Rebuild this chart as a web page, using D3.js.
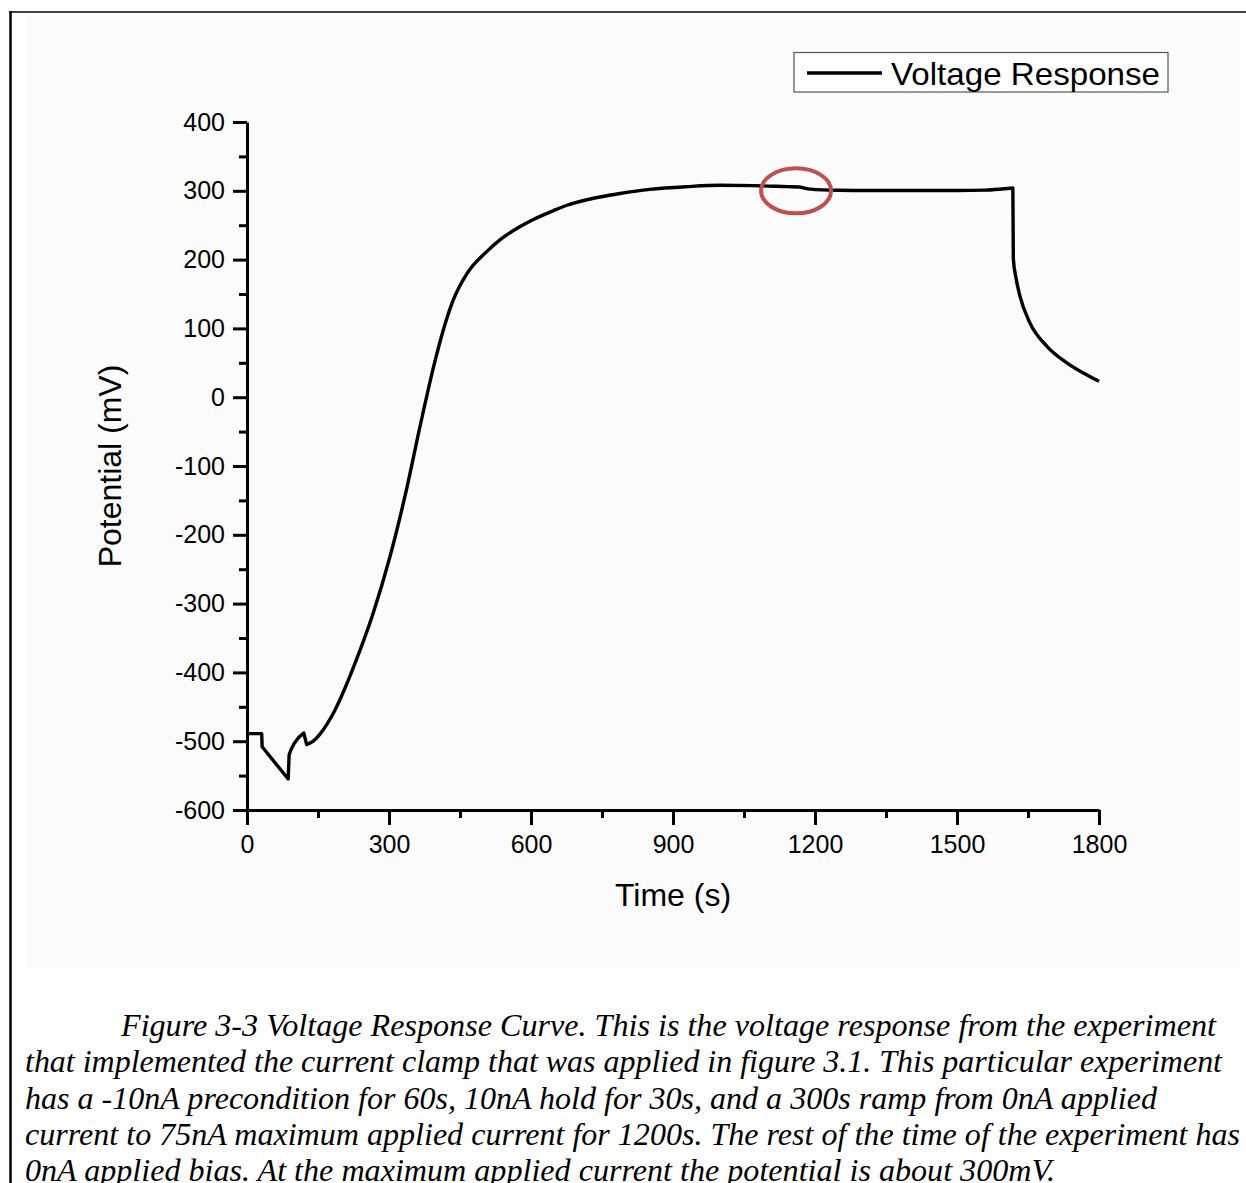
<!DOCTYPE html>
<html>
<head>
<meta charset="utf-8">
<script src="https://cdn.jsdelivr.net/npm/d3@7/dist/d3.min.js"></script>
<style>
  html, body { margin: 0; padding: 0; background: #ffffff; }
  svg { display: block; }
</style>
</head>
<body>
<svg id="fig" width="1246" height="1183"></svg>
<script>
// Measured voltage response: time (s) and potential (mV)
const timeSec = [0, 31, 32, 87, 89, 93, 100, 110, 120, 126, 140, 155, 170, 185, 200, 232, 266, 302, 338,
  366, 397, 414, 435, 465, 507, 535, 577, 604, 647, 676, 718, 746, 788, 851, 930, 1000, 1069, 1141,
  1165, 1190, 1250, 1300, 1400, 1500, 1560, 1600, 1618, 1619, 1625, 1633, 1654, 1690, 1732, 1770, 1800];
const potentialMV = [-489, -489, -508, -555, -520, -512, -503, -494, -488, -505, -500, -489, -474, -456,
  -434, -380, -315, -232, -131, -41, 52, 96, 140, 180, 212, 229, 248, 258, 271, 279, 287, 291, 296,
  302, 306, 308, 307.5, 306, 305.5, 302.5, 300.8, 300.5, 300.5, 300.5, 301, 303, 304, 201, 172, 147,
  108, 74, 50, 34, 23];

const xMajorTicks = [0, 300, 600, 900, 1200, 1500, 1800];
const xMinorTicks = [150, 450, 750, 1050, 1350, 1650];
const yMajorTicks = [-600, -500, -400, -300, -200, -100, 0, 100, 200, 300, 400];
const yMinorTicks = [-550, -450, -350, -250, -150, -50, 50, 150, 250, 350];

const seriesName = "Voltage Response";
const xTitle = "Time (s)";
const yTitle = "Potential (mV)";
const captionLines = [
  "Figure 3-3 Voltage Response Curve. This is the voltage response from the experiment",
  "that implemented the current clamp that was applied in figure 3.1. This particular experiment",
  "has a -10nA precondition for 60s, 10nA hold for 30s, and a 300s ramp from 0nA applied",
  "current to 75nA maximum applied current for 1200s. The rest of the time of the experiment has",
  "0nA applied bias. At the maximum applied current the potential is about 300mV."
];

const svg = d3.select("#fig");
const sans = "'Liberation Sans', Arial, sans-serif";

// page frame and figure background
svg.append("rect").attr("x", 26).attr("y", 17).attr("width", 1214).attr("height", 952)
  .attr("fill", "#fbfbfb");
svg.append("line").attr("x1", 9).attr("x2", 1246).attr("y1", 12).attr("y2", 12)
  .attr("stroke", "#000").attr("stroke-width", 1.6);
svg.append("line").attr("x1", 10.5).attr("x2", 10.5).attr("y1", 11).attr("y2", 1183)
  .attr("stroke", "#000").attr("stroke-width", 2.5);

// plot area
const x0 = 247, x1 = 1099, y0 = 810, y1 = 122;
const x = d3.scaleLinear().domain([0, 1800]).range([x0, x1]);
const y = d3.scaleLinear().domain([-600, 400]).range([y0, y1]);
const plainInt = d => String(d);

function styleAxis(g) {
  g.selectAll("path.domain").attr("stroke", "#000").attr("stroke-width", 3);
  g.selectAll(".tick line").attr("stroke", "#000").attr("stroke-width", 3);
  g.selectAll(".tick text").attr("font-family", sans).attr("font-size", 25).attr("fill", "#000");
}

// minor ticks first
svg.append("g").attr("transform", `translate(0,${y0})`)
  .call(d3.axisBottom(x).tickValues(xMinorTicks).tickSize(8).tickSizeOuter(0).tickFormat(""))
  .call(g => g.select("path.domain").remove())
  .call(styleAxis);
svg.append("g").attr("transform", `translate(${x0},0)`)
  .call(d3.axisLeft(y).tickValues(yMinorTicks).tickSize(8).tickSizeOuter(0).tickFormat(""))
  .call(g => g.select("path.domain").remove())
  .call(styleAxis);

// major axes
svg.append("g").attr("transform", `translate(0,${y0})`)
  .call(d3.axisBottom(x).tickValues(xMajorTicks).tickSize(15).tickSizeOuter(0).tickPadding(10)
    .tickFormat(plainInt))
  .call(styleAxis);
svg.append("g").attr("transform", `translate(${x0},0)`)
  .call(d3.axisLeft(y).tickValues(yMajorTicks).tickSize(14).tickSizeOuter(0).tickPadding(8)
    .tickFormat(plainInt))
  .call(styleAxis);

// axis titles
svg.append("text").attr("x", (x0 + x1) / 2).attr("y", 906)
  .attr("text-anchor", "middle").attr("font-family", sans).attr("font-size", 32)
  .text(xTitle);
svg.append("text").attr("transform", `translate(121,${(y0 + y1) / 2}) rotate(-90)`)
  .attr("text-anchor", "middle").attr("font-family", sans).attr("font-size", 32)
  .text(yTitle);

// data line: straight segments through the precondition/hold steps, smooth afterwards
const data = timeSec.map((t, i) => ({ t, v: potentialMV[i] }));
const stepEnd = 126;
const straight = d3.line().x(d => x(d.t)).y(d => y(d.v)).curve(d3.curveLinear);
const smooth = d3.line().x(d => x(d.t)).y(d => y(d.v)).curve(d3.curveMonotoneX);
const pathD = straight(data.filter(d => d.t <= stepEnd)) +
  smooth(data.filter(d => d.t >= stepEnd)).replace(/^M/, "L");
svg.append("path").attr("d", pathD)
  .attr("fill", "none").attr("stroke", "#000").attr("stroke-width", 3.4)
  .attr("stroke-linejoin", "round");

// highlight around the small step at the start of the plateau
svg.append("ellipse").attr("cx", x(1160)).attr("cy", y(300)).attr("rx", 35).attr("ry", 22.5)
  .attr("fill", "none").attr("stroke", "#c0504d").attr("stroke-width", 4);

// legend
const lg = svg.append("g");
lg.append("rect").attr("x", 794).attr("y", 52.5).attr("width", 374).attr("height", 39.5)
  .attr("fill", "#fff").attr("stroke", "#555").attr("stroke-width", 1.2);
lg.append("line").attr("x1", 807).attr("x2", 882).attr("y1", 73).attr("y2", 73)
  .attr("stroke", "#000").attr("stroke-width", 3.3);
lg.append("text").attr("x", 891).attr("y", 84.5).attr("font-family", sans).attr("font-size", 32)
  .attr("textLength", 269).attr("lengthAdjust", "spacingAndGlyphs")
  .text(seriesName);

// caption
const capX = [121, 25, 25, 25, 25];
const capW = [1095, 1197, 1132, 1215, 1030];
const capY = [1036, 1072, 1108.5, 1145, 1181];
captionLines.forEach((s, i) => {
  svg.append("text").attr("x", capX[i]).attr("y", capY[i])
    .attr("font-family", "'Liberation Serif', 'Times New Roman', serif")
    .attr("font-style", "italic").attr("font-size", 31)
    .attr("textLength", capW[i]).attr("lengthAdjust", "spacingAndGlyphs")
    .text(s);
});
</script>
</body>
</html>
